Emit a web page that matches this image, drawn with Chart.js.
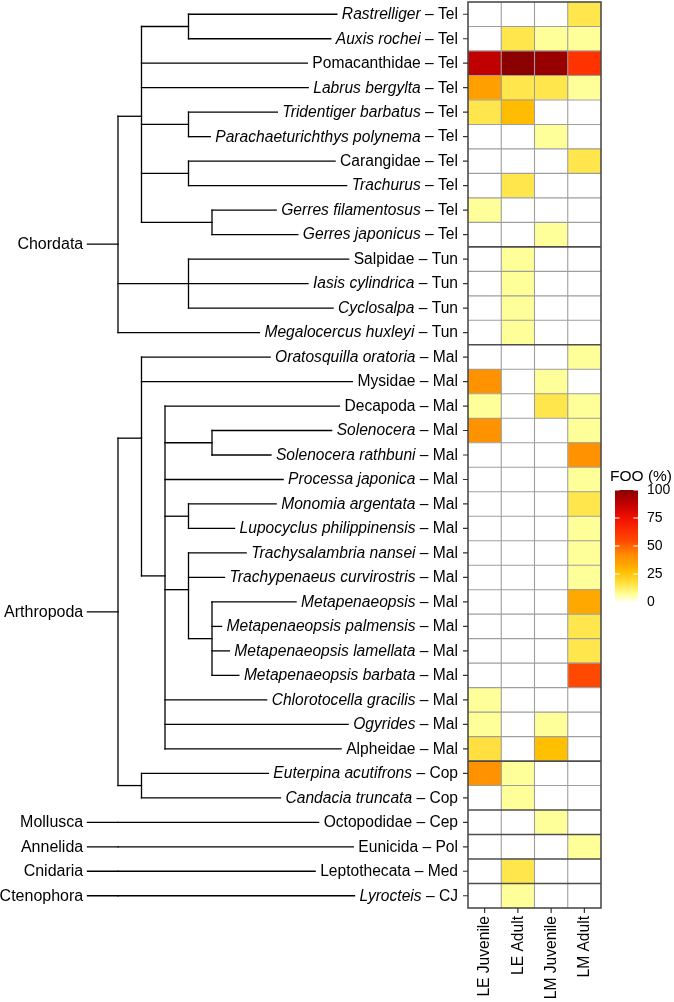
<!DOCTYPE html>
<html><head><meta charset="utf-8">
<script src="https://cdn.jsdelivr.net/npm/chart.js@4"></script>
<style>
html,body{margin:0;padding:0;background:#fff;}
#wrap{position:relative;width:674px;height:1002px;}
canvas{position:absolute;left:0;top:0;}
</style></head><body>
<div id="wrap">
<canvas id="heat" width="674" height="1002"></canvas>
<canvas id="tree" width="674" height="1002"></canvas>
</div>
<script>
// ---------- DATA ----------
const taxa = ['Rastrelliger','Auxis rochei','Pomacanthidae','Labrus bergylta','Tridentiger barbatus','Parachaeturichthys polynema','Carangidae','Trachurus','Gerres filamentosus','Gerres japonicus',
  'Salpidae','Iasis cylindrica','Cyclosalpa','Megalocercus huxleyi',
  'Oratosquilla oratoria','Mysidae','Decapoda','Solenocera','Solenocera rathbuni','Processa japonica','Monomia argentata','Lupocyclus philippinensis','Trachysalambria nansei','Trachypenaeus curvirostris','Metapenaeopsis','Metapenaeopsis palmensis','Metapenaeopsis lamellata','Metapenaeopsis barbata','Chlorotocella gracilis','Ogyrides','Alpheidae',
  'Euterpina acutifrons','Candacia truncata','Octopodidae','Eunicida','Leptothecata','Lyrocteis'];
const groups = ['Tel','Tel','Tel','Tel','Tel','Tel','Tel','Tel','Tel','Tel',
  'Tun','Tun','Tun','Tun',
  'Mal','Mal','Mal','Mal','Mal','Mal','Mal','Mal','Mal','Mal','Mal','Mal','Mal','Mal','Mal','Mal','Mal',
  'Cop','Cop','Cep','Pol','Med','CJ'];
const italic = [1,1,0,1,1,1,0,1,1,1, 0,1,1,1, 1,0,0,1,1,1,1,1,1,1,1,1,1,1,1,1,0, 1,1,0,0,0,1];
const columns = ['LE Juvenile','LE Adult','LM Juvenile','LM Adult'];
const leJuvenile = [0,0,88,35,15,0,0,0,7,0, 0,0,0,0, 0,40,7,40,0,0,0,0,0,0,0,0,0,0,7,7,17, 40,0,0,0,0,0];
const leAdult    = [0,15,100,15,28,0,0,15,0,0, 7,7,7,7, 0,0,0,0,0,0,0,0,0,0,0,0,0,0,0,0,0, 7,7,0,0,15,7];
const lmJuvenile = [0,7,97,15,0,7,0,0,0,7, 0,0,0,0, 0,7,15,0,0,0,0,0,0,0,0,0,0,0,0,7,27, 0,0,7,0,0,0];
const lmAdult    = [15,7,62,7,0,0,15,0,0,0, 0,0,0,0, 7,0,7,7,40,7,15,7,7,7,33,15,15,55,0,0,0, 0,0,0,7,0,0];
const legendTicks = [0,25,50,75,100];

// taxonomy (rank: 0 phylum, 1 class, 2 order, 3 family, 4 genus)
const chordata = [
  {rank:1, children:[
    {rank:3, children:['Rastrelliger','Auxis rochei']},
    'Pomacanthidae','Labrus bergylta',
    {rank:3, children:['Tridentiger barbatus','Parachaeturichthys polynema']},
    {rank:3, children:['Carangidae','Trachurus']},
    {rank:4, children:['Gerres filamentosus','Gerres japonicus']}]},
  {rank:3, children:['Salpidae','Iasis cylindrica','Cyclosalpa']},
  'Megalocercus huxleyi'];
const arthropoda = [
  {rank:1, children:['Oratosquilla oratoria','Mysidae',
    {rank:2, children:['Decapoda',
      {rank:4, children:['Solenocera','Solenocera rathbuni']},
      'Processa japonica',
      {rank:3, children:['Monomia argentata','Lupocyclus philippinensis']},
      {rank:3, children:['Trachysalambria nansei','Trachypenaeus curvirostris',
        {rank:4, children:['Metapenaeopsis','Metapenaeopsis palmensis','Metapenaeopsis lamellata','Metapenaeopsis barbata']}]},
      'Chlorotocella gracilis','Ogyrides','Alpheidae']}]},
  {rank:1, children:['Euterpina acutifrons','Candacia truncata']}];
const mollusca = ['Octopodidae'];
const annelida = ['Eunicida'];
const cnidaria = ['Leptothecata'];
const ctenophora = ['Lyrocteis'];
const phylumNames = ['Chordata','Arthropoda','Mollusca','Annelida','Cnidaria','Ctenophora'];
const phylumTrees = [chordata, arthropoda, mollusca, annelida, cnidaria, ctenophora];

// colour scale (FOO %)
const fooStops  = [0,7,15,27,35,42,55,62,75,88,100];
const fooColors = ['#FFFFF2','#FFFF99','#FFE64D','#FFC000','#FFA000','#FF8C00','#FF4800','#FF3300','#F01000','#C00000','#8B0000'];

// ---------- STYLE ----------
const FONT = '"Liberation Sans", Arial, Helvetica, sans-serif';
const TIP = '15.6px ';
const TEXT = '#000';
const LINE = '#000';
const LABEL_RIGHT = 458;
const PX0 = 118, PX_PER_RANK = 23.5;
const ROOT_X = -1.3, PHYLUM_LABEL_X = -1.48;

function hex(h){return [parseInt(h.slice(1,3),16),parseInt(h.slice(3,5),16),parseInt(h.slice(5,7),16)];}
function colorFor(v){
  if(!v) return '#FFFFFF';
  for(let i=1;i<fooStops.length;i++){
    if(v<=fooStops[i]){
      const t=(v-fooStops[i-1])/(fooStops[i]-fooStops[i-1]);
      const a=hex(fooColors[i-1]), b=hex(fooColors[i]);
      return 'rgb('+a.map((c,k)=>Math.round(c+(b[k]-c)*t)).join(',')+')';
    }
  }
  return fooColors[fooColors.length-1];
}

// ---------- TREE LAYOUT ----------
function layout(node){
  if(typeof node==='string') return {leaf:true, name:node, y:taxa.indexOf(node)};
  const ch = node.children.map(layout);
  return {leaf:false, rank:node.rank, y: ch.reduce((s,c)=>s+c.y,0)/ch.length, children:ch};
}
const roots = phylumTrees.map(t=>layout({rank:0, children:t}));

function collectSegments(leafEnd){
  const out=[];
  function rec(n){
    if(n.leaf) return;
    const ys=n.children.map(c=>c.y);
    if(n.children.length>1) out.push([[n.rank,Math.min(...ys)],[n.rank,Math.max(...ys)]]);
    n.children.forEach(c=>{ out.push([[n.rank,c.y],[c.leaf?leafEnd[c.y]:c.rank,c.y]]); rec(c); });
  }
  roots.forEach(r=>{ out.push([[ROOT_X,r.y],[0,r.y]]); rec(r); });
  return out;
}

function tipParts(i){
  return {name:taxa[i], rest:' \u2013 '+groups[i], ital:!!italic[i]};
}
function tipStart(ctx,i){
  const p=tipParts(i);
  ctx.font=TIP+FONT; const wr=ctx.measureText(p.rest).width;
  ctx.font=(p.ital?'italic ':'')+TIP+FONT; const wn=ctx.measureText(p.name).width;
  return LABEL_RIGHT-wr-wn;
}

const treeLabels = {
  id:'treeLabels',
  afterDraw(chart){
    const {ctx, scales:{x,y}} = chart;
    ctx.save();
    ctx.fillStyle=TEXT; ctx.textBaseline='middle';
    taxa.forEach((t,i)=>{
      const p=tipParts(i); const py=y.getPixelForValue(i)+0.5;
      ctx.font=TIP+FONT; const wr=ctx.measureText(p.rest).width;
      ctx.textAlign='right';
      ctx.fillText(p.rest, LABEL_RIGHT, py);
      ctx.font=(p.ital?'italic ':'')+TIP+FONT;
      ctx.fillText(p.name, LABEL_RIGHT-wr, py);
    });
    ctx.font='16px '+FONT; ctx.textAlign='right';
    roots.forEach((r,k)=>{
      ctx.fillText(phylumNames[k], x.getPixelForValue(PHYLUM_LABEL_X), y.getPixelForValue(r.y)+0.5);
    });
    ctx.restore();
  }
};

const treeChart = new Chart(document.getElementById('tree'), {
  type:'scatter',
  data:{datasets:[]},
  options:{
    responsive:false, animation:false, events:[], devicePixelRatio:1,
    layout:{padding:{left:0,right:0,top:2,bottom:94}},
    plugins:{legend:{display:false}, tooltip:{enabled:false}},
    scales:{
      x:{type:'linear', display:false, min:-PX0/PX_PER_RANK, max:(674-PX0)/PX_PER_RANK},
      y:{type:'linear', display:false, min:-0.5, max:taxa.length-0.5, reverse:true}
    }
  },
  plugins:[treeLabels]
});
const leafEnd = taxa.map((t,i)=>treeChart.scales.x.getValueForPixel(tipStart(treeChart.ctx,i)-5));
treeChart.data.datasets = collectSegments(leafEnd).map(s=>({
  data:s.map(([x,y])=>({x,y})), showLine:true, borderColor:LINE, borderWidth:1.3,
  pointRadius:0, borderCapStyle:'square', fill:false, tension:0
}));
treeChart.update();

// ---------- HEATMAP ----------
const heatCols = [leJuvenile, leAdult, lmJuvenile, lmAdult];
const heatDecor = {
  id:'heatDecor',
  afterDatasetsDraw(chart){
    const {ctx, chartArea:a, scales:{x,y}} = chart;
    const n=taxa.length;
    const edge=i=> i===0?a.top:(i===n?a.bottom:(y.getPixelForValue(i-1)+y.getPixelForValue(i))/2);
    ctx.save();
    // inner grid
    ctx.strokeStyle='#9E9E9E'; ctx.lineWidth=1.1;
    ctx.beginPath();
    for(let i=1;i<n;i++) if(groups[i]===groups[i-1]){ const py=edge(i); ctx.moveTo(a.left,py); ctx.lineTo(a.right,py); }
    for(let c=1;c<columns.length;c++){ const px=x.getPixelForValue(c); ctx.moveTo(px,a.top); ctx.lineTo(px,a.bottom); }
    ctx.stroke();
    // group separators
    ctx.strokeStyle='#4D4D4D'; ctx.lineWidth=1.6;
    ctx.beginPath();
    for(let i=1;i<n;i++) if(groups[i]!==groups[i-1]){ const py=edge(i); ctx.moveTo(a.left,py); ctx.lineTo(a.right,py); }
    ctx.stroke();
    ctx.strokeRect(a.left,a.top,a.right-a.left,a.bottom-a.top);
    // ticks
    ctx.strokeStyle='#333'; ctx.lineWidth=1.2;
    ctx.beginPath();
    for(let i=0;i<n;i++){ const py=y.getPixelForValue(i); ctx.moveTo(a.left-5,py); ctx.lineTo(a.left,py); }
    columns.forEach((c,k)=>{ const px=x.getPixelForValue(k+0.5); ctx.moveTo(px,a.bottom); ctx.lineTo(px,a.bottom+5); });
    ctx.stroke();
    // column labels
    ctx.fillStyle=TEXT; ctx.font='15.6px '+FONT; ctx.textAlign='right'; ctx.textBaseline='middle';
    columns.forEach((c,k)=>{
      ctx.save(); ctx.translate(x.getPixelForValue(k+0.5)+0.5, a.bottom+8); ctx.rotate(-Math.PI/2);
      ctx.fillText(c,0,0); ctx.restore();
    });
    // legend
    const L=615, R=638, T=490, B=602;
    const g=ctx.createLinearGradient(0,B,0,T);
    fooStops.forEach((s,k)=>g.addColorStop(s/100, fooColors[k]));
    ctx.fillStyle=g; ctx.fillRect(L,T,R-L,B-T);
    ctx.strokeStyle='#fff'; ctx.lineWidth=1;
    ctx.beginPath();
    legendTicks.forEach(v=>{ const py=B-(B-T)*v/100; ctx.moveTo(L,py); ctx.lineTo(L+4.6,py); ctx.moveTo(R-4.6,py); ctx.lineTo(R,py); });
    ctx.stroke();
    ctx.fillStyle=TEXT; ctx.textAlign='left'; ctx.textBaseline='middle';
    ctx.font='14px '+FONT;
    legendTicks.forEach(v=>ctx.fillText(String(v), 647, B-(B-T)*v/100));
    ctx.font='15.5px '+FONT;
    ctx.fillText('FOO (%)', 610, 477);
    ctx.restore();
  }
};
new Chart(document.getElementById('heat'), {
  type:'bar',
  data:{labels:taxa, datasets:heatCols.map((vals,c)=>({
    label:columns[c], data:vals.map(()=>[c,c+1]), backgroundColor:vals.map(colorFor),
    borderWidth:0, grouped:false, barPercentage:1, categoryPercentage:1
  }))},
  options:{
    indexAxis:'y', responsive:false, animation:false, events:[], devicePixelRatio:1,
    layout:{padding:{left:468,right:73,top:2,bottom:94}},
    plugins:{legend:{display:false}, tooltip:{enabled:false}},
    scales:{
      x:{type:'linear', min:0, max:columns.length, display:false},
      y:{type:'category', display:false, offset:true}
    }
  },
  plugins:[heatDecor]
});
</script>
</body></html>
